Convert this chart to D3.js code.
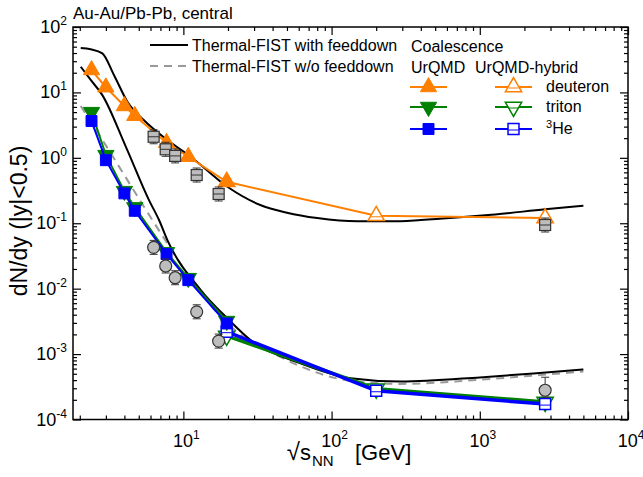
<!DOCTYPE html>
<html><head><meta charset="utf-8">
<script src="https://cdn.jsdelivr.net/npm/d3@7"></script>
<style>body{margin:0;background:#fff;} svg{font-family:"Liberation Sans",Arial,sans-serif;}</style>
</head><body><svg id="c" width="643" height="477"></svg>
<script>
// ---- data ----
const xTicks = [10, 100, 1000, 10000];
const yTicks = [1e-4, 1e-3, 1e-2, 1e-1, 1, 10, 100];
const xTickExp = ["1", "2", "3", "4"];
const yTickExp = ["-4", "-3", "-2", "-1", "0", "1", "2"];

const urqmdX = [2.4, 3.0, 4.0, 4.7, 7.7, 10.8, 19.6];
const urqmdD = [22, 12, 6.2, 4.4, 1.70, 1.04, 0.43];
const urqmdT = [5.0, 1.1, 0.31, 0.175, 0.036, 0.0145, 0.0032];
const urqmdHe = [3.65, 0.92, 0.286, 0.155, 0.0338, 0.0135, 0.00294];

const hybX = [19.6, 200, 2760];
const hybD = [0.43, 0.13, 0.12];
const hybT = [0.0019, 2.95e-4, 1.85e-4];
const hybHe = [0.0022, 2.75e-4, 1.72e-4];

const dataX = [6.3, 7.6, 8.8, 12.3, 17.3, 2760];
const dataD = [2.10, 1.35, 1.07, 0.546, 0.28, 0.094];
const dataHe = [0.0428, 0.0222, 0.0147, 0.00443, 0.00158, 2.8e-4];

const fistDX = [2.03, 2.37, 2.84, 3.4, 4.19, 5.4, 7.8, 11.2, 19.8, 33, 50, 80, 150, 250, 400, 700, 1200, 2760, 5000];
const fistD  = [47.7, 45.6, 39.6, 18.5, 7.2, 3.78, 1.87, 1.04, 0.361, 0.19, 0.145, 0.12, 0.107, 0.107, 0.112, 0.122, 0.135, 0.163, 0.185];
const fistAX = [2.03, 2.37, 2.84, 4.08, 5.86, 6.85, 7.8, 13.1, 19.8, 28.4, 61.7, 134, 292, 1000, 2300, 5000];
const fistA  = [24.7, 15.5, 9.1, 1.5, 0.226, 0.112, 0.0553, 0.00953, 0.00352, 0.00164, 7.2e-4, 4.27e-4, 3.8e-4, 4.4e-4, 5.07e-4, 5.83e-4];
const noFdX = [2.03, 3.24, 5.42, 7.8, 10.6, 19.8, 40.8, 61.7, 134, 292, 1000, 2300, 5000];
const noFd  = [6.2, 1.17, 0.179, 0.049, 0.0171, 0.00294, 1.02e-3, 6.5e-4, 3.9e-4, 3.5e-4, 4.05e-4, 4.7e-4, 5.4e-4];

const colD = "#ff7f00", colT = "#008000", colHe = "#0000ff";

// ---- layout ----
const L = 73, R = 628, T = 27, B = 419.5;
const svg = d3.select("#c");
const x = d3.scaleLog().domain([1.8, 1e4]).range([L, R]);
const y = d3.scaleLog().domain([1e-4, 1e2]).range([B, T]);

function minors(lo, hi) {
  const out = [];
  for (let e = Math.floor(Math.log10(lo)); e <= Math.ceil(Math.log10(hi)); e++)
    for (let k = 2; k <= 9; k++) { const v = k * Math.pow(10, e); if (v >= lo && v <= hi) out.push(v); }
  return out;
}
const xMin = minors(1.8, 1e4), yMin = minors(1e-4, 1e2);

function axis(gen, tr, vals, size) {
  const g = svg.append("g").attr("transform", tr)
    .call(gen.tickValues(vals).tickSizeInner(size).tickSizeOuter(0).tickFormat(""));
  g.selectAll("path").remove();
  g.selectAll("line").attr("stroke", "#000").attr("stroke-width", 1.2);
}
axis(d3.axisBottom(x), `translate(0,${B})`, xTicks, -8);
axis(d3.axisBottom(x), `translate(0,${B})`, xMin, -4);
axis(d3.axisTop(x), `translate(0,${T})`, xTicks, -8);
axis(d3.axisTop(x), `translate(0,${T})`, xMin, -4);
axis(d3.axisLeft(y), `translate(${L},0)`, yTicks, -8);
axis(d3.axisLeft(y), `translate(${L},0)`, yMin, -4);
axis(d3.axisRight(y), `translate(${R},0)`, yTicks, -8);
axis(d3.axisRight(y), `translate(${R},0)`, yMin, -4);
svg.append("rect").attr("x", L).attr("y", T).attr("width", R - L).attr("height", B - T)
  .attr("fill", "none").attr("stroke", "#000").attr("stroke-width", 1.5);

function pow10(sel, exp) {
  sel.append("tspan").text("10");
  sel.append("tspan").attr("dy", -8).attr("font-size", 12).text(exp);
}
xTicks.forEach((v, i) => {
  const t = svg.append("text").attr("x", x(v) + 3).attr("y", 447).attr("text-anchor", "middle").attr("font-size", 18);
  pow10(t, xTickExp[i]);
});
yTicks.forEach((v, i) => {
  const t = svg.append("text").attr("x", 67).attr("y", y(v) + 6).attr("text-anchor", "end").attr("font-size", 18);
  pow10(t, yTickExp[i]);
});

// axis titles
const xt = svg.append("text").attr("x", 311).attr("y", 460).attr("text-anchor", "end").attr("font-size", 22);
xt.append("tspan").attr("font-size", 24).text("√");
xt.append("tspan").text("s");
svg.append("text").attr("x", 312).attr("y", 466).attr("font-size", 15).text("NN");
svg.append("text").attr("x", 355).attr("y", 460).attr("font-size", 22).text("[GeV]");
svg.append("text").attr("transform", "translate(27,221) rotate(-90)").attr("text-anchor", "middle")
  .attr("font-size", 23).text("dN/dy (|y|<0.5)");
svg.append("text").attr("x", 73).attr("y", 19).attr("font-size", 17).text("Au-Au/Pb-Pb, central");

svg.append("clipPath").attr("id", "clip").append("rect").attr("x", L).attr("y", T).attr("width", R - L).attr("height", B - T);
const plot = svg.append("g").attr("clip-path", "url(#clip)");

const line = d3.line().x(d => x(d[0])).y(d => y(d[1])).curve(d3.curveMonotoneX);
const zip = (a, b) => a.map((v, i) => [v, b[i]]);

plot.append("path").attr("d", line(zip(noFdX, noFd))).attr("fill", "none").attr("stroke", "#999")
  .attr("stroke-width", 2).attr("stroke-dasharray", "8,6");
plot.append("path").attr("d", line(zip(fistDX, fistD))).attr("fill", "none").attr("stroke", "#000").attr("stroke-width", 2);
plot.append("path").attr("d", line(zip(fistAX, fistA))).attr("fill", "none").attr("stroke", "#000").attr("stroke-width", 2);

const sym = {
  up: d3.symbol().type(d3.symbolTriangle).size(115)(),
  sq: d3.symbol().type(d3.symbolSquare).size(120)()
};
function marker(g, px, py, kind, col, open) {
  const tr = kind === "down" ? `translate(${px},${py}) rotate(180)` : `translate(${px},${py})`;
  g.append("path").attr("d", kind === "down" ? sym.up : sym[kind]).attr("transform", tr)
    .attr("fill", open ? "#fff" : col).attr("stroke", col).attr("stroke-width", open ? 1.5 : 1);
  if (open) g.append("line").attr("x1", px - 5).attr("x2", px + 5).attr("y1", py + 1).attr("y2", py + 1).attr("stroke", col).attr("stroke-width", 1);
}
function series(xs, ys, col, kind, open, w) {
  plot.append("path").attr("d", d3.line().x(d => x(d[0])).y(d => y(d[1]))(zip(xs, ys)))
    .attr("fill", "none").attr("stroke", col).attr("stroke-width", w);
  xs.forEach((v, i) => marker(plot, x(v), y(ys[i]), kind, col, open));
}
series(hybX, hybD, colD, "up", true, 2);
series(hybX, hybT, colT, "down", true, 3.5);
series(hybX, hybHe, colHe, "sq", true, 3.5);
series(urqmdX, urqmdD, colD, "up", false, 2);
series(urqmdX, urqmdT, colT, "down", false, 2);
series(urqmdX, urqmdHe, colHe, "sq", false, 2);

dataX.forEach((v, i) => {
  const px = x(v), py = y(dataD[i]);
  plot.append("line").attr("x1", px).attr("x2", px).attr("y1", py - 7).attr("y2", py + 7).attr("stroke", "#333");
  plot.append("rect").attr("x", px - 5.5).attr("y", py - 5.5).attr("width", 11).attr("height", 11)
    .attr("fill", "#bdbdbd").attr("stroke", "#333").attr("stroke-width", 1.2);
  plot.append("line").attr("x1", px - 5.5).attr("x2", px + 5.5).attr("y1", py).attr("y2", py).attr("stroke", "#333");
  [py - 7, py + 7].forEach(yy => plot.append("line").attr("x1", px - 4).attr("x2", px + 4).attr("y1", yy).attr("y2", yy).attr("stroke", "#333"));
});
dataX.forEach((v, i) => {
  const px = x(v), py = y(dataHe[i]);
  const up = i === 5 ? 13 : 7;
  plot.append("line").attr("x1", px).attr("x2", px).attr("y1", py - up).attr("y2", py + 7).attr("stroke", "#333");
  [py - up, py + 7].forEach(yy => plot.append("line").attr("x1", px - 4).attr("x2", px + 4).attr("y1", yy).attr("y2", yy).attr("stroke", "#333"));
  plot.append("circle").attr("cx", px).attr("cy", py).attr("r", 6)
    .attr("fill", "#bdbdbd").attr("stroke", "#333").attr("stroke-width", 1.2);
});

// legend
const lg = svg.append("g");
const fs = 16;
lg.append("line").attr("x1", 150).attr("x2", 188).attr("y1", 45).attr("y2", 45).attr("stroke", "#000").attr("stroke-width", 2);
lg.append("text").attr("x", 192).attr("y", 51).attr("font-size", fs).text("Thermal-FIST with feeddown");
lg.append("line").attr("x1", 150).attr("x2", 188).attr("y1", 66).attr("y2", 66).attr("stroke", "#999").attr("stroke-width", 2).attr("stroke-dasharray", "8,6");
lg.append("text").attr("x", 192).attr("y", 72).attr("font-size", fs).text("Thermal-FIST w/o feeddown");
lg.append("text").attr("x", 411).attr("y", 52).attr("font-size", fs).text("Coalescence");
lg.append("text").attr("x", 411).attr("y", 73).attr("font-size", fs).text("UrQMD");
lg.append("text").attr("x", 475).attr("y", 73).attr("font-size", fs).text("UrQMD-hybrid");
const rows = [[87, colD, "up", "deuteron"], [107, colT, "down", "triton"], [129, colHe, "sq", null]];
rows.forEach(r => {
  [[410, 447, false], [495, 532, true]].forEach(c => {
    lg.append("line").attr("x1", c[0]).attr("x2", c[1]).attr("y1", r[0]).attr("y2", r[0]).attr("stroke", r[1]).attr("stroke-width", 2);
    marker(lg, (c[0] + c[1]) / 2, r[0], r[2], r[1], c[2]);
  });
  const t = lg.append("text").attr("x", 546).attr("y", r[0] + 5).attr("font-size", fs);
  if (r[3]) t.text(r[3]);
  else { t.append("tspan").attr("dy", -6).attr("font-size", 11).text("3"); t.append("tspan").attr("dy", 6).text("He"); }
});
</script></body></html>
